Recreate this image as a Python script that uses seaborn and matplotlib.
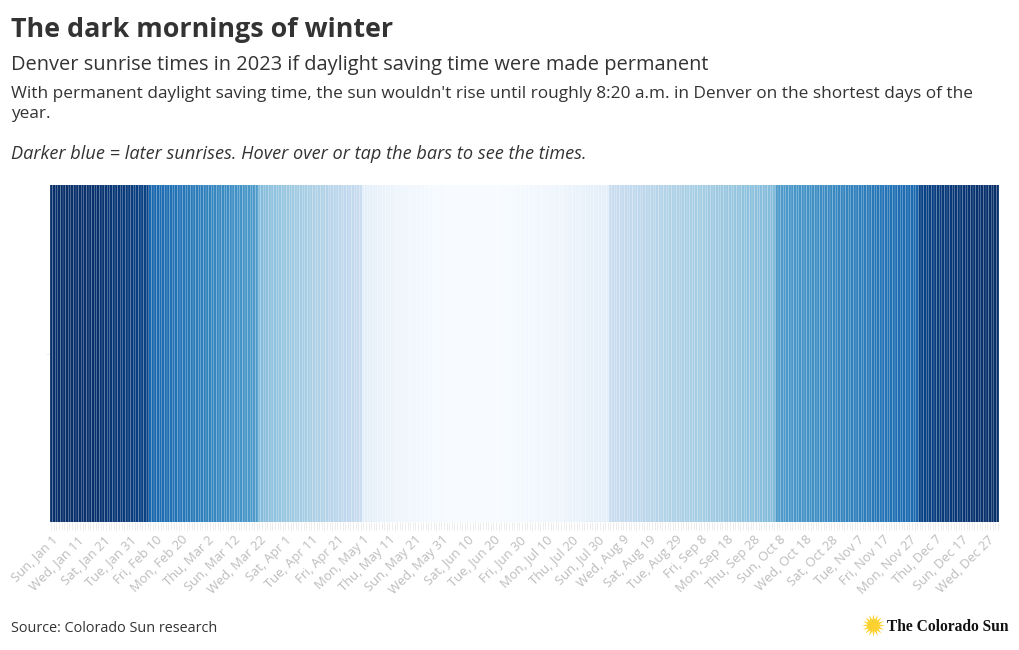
import pandas as pd
import seaborn as sns
import matplotlib.pyplot as plt

# sunrise as clock reading h.mm, one list per month
jan = [8.21, 8.21, 8.21, 8.21, 8.21, 8.21, 8.21, 8.21, 8.21, 8.20, 8.20, 8.20, 8.20, 8.19, 8.19, 8.19, 8.18, 8.18, 8.17, 8.17, 8.16, 8.15, 8.15, 8.14, 8.13, 8.13, 8.12, 8.11, 8.10, 8.09, 8.08]
feb = [8.07, 8.06, 8.05, 8.04, 8.03, 8.02, 8.01, 7.59, 7.58, 7.57, 7.55, 7.54, 7.53, 7.52, 7.51, 7.49, 7.48, 7.47, 7.45, 7.44, 7.43, 7.41, 7.40, 7.39, 7.37, 7.36, 7.34, 7.33]
mar = [7.31, 7.29, 7.28, 7.26, 7.25, 7.23, 7.22, 7.20, 7.19, 7.17, 7.16, 7.14, 7.13, 7.11, 7.10, 7.08, 7.07, 7.05, 7.04, 7.02, 7.00, 6.59, 6.57, 6.56, 6.54, 6.53, 6.51, 6.50, 6.48, 6.47, 6.45]
apr = [6.44, 6.42, 6.41, 6.39, 6.38, 6.36, 6.35, 6.33, 6.32, 6.30, 6.29, 6.27, 6.26, 6.24, 6.23, 6.21, 6.20, 6.18, 6.17, 6.16, 6.14, 6.13, 6.11, 6.10, 6.09, 6.07, 6.06, 6.04, 6.02, 6.00]
may = [5.59, 5.58, 5.57, 5.56, 5.54, 5.53, 5.52, 5.51, 5.50, 5.49, 5.48, 5.47, 5.46, 5.45, 5.44, 5.44, 5.43, 5.42, 5.41, 5.40, 5.39, 5.39, 5.38, 5.37, 5.37, 5.36, 5.36, 5.35, 5.34, 5.34, 5.33]
jun = [5.33, 5.33, 5.32, 5.32, 5.32, 5.31, 5.31, 5.31, 5.31, 5.31, 5.31, 5.31, 5.31, 5.31, 5.31, 5.31, 5.31, 5.31, 5.32, 5.32, 5.32, 5.32, 5.33, 5.33, 5.33, 5.34, 5.34, 5.34, 5.35, 5.35]
jul = [5.36, 5.36, 5.37, 5.37, 5.38, 5.38, 5.39, 5.40, 5.40, 5.41, 5.42, 5.42, 5.43, 5.44, 5.45, 5.45, 5.46, 5.47, 5.48, 5.49, 5.50, 5.51, 5.51, 5.52, 5.53, 5.54, 5.55, 5.56, 5.57, 5.57, 5.58]
aug = [5.58, 5.59, 5.59, 6.00, 6.01, 6.02, 6.03, 6.04, 6.05, 6.06, 6.07, 6.08, 6.09, 6.10, 6.11, 6.12, 6.13, 6.14, 6.15, 6.16, 6.17, 6.18, 6.19, 6.20, 6.21, 6.22, 6.23, 6.24, 6.25, 6.26, 6.27]
sep = [6.28, 6.29, 6.30, 6.30, 6.31, 6.32, 6.33, 6.34, 6.35, 6.36, 6.37, 6.38, 6.39, 6.40, 6.41, 6.42, 6.43, 6.44, 6.44, 6.45, 6.46, 6.47, 6.48, 6.49, 6.50, 6.51, 6.52, 6.52, 6.53, 6.54]
oct_ = [6.55, 6.56, 6.57, 6.58, 6.58, 6.59, 7.00, 7.01, 7.02, 7.03, 7.04, 7.05, 7.06, 7.07, 7.08, 7.09, 7.10, 7.11, 7.12, 7.13, 7.14, 7.15, 7.16, 7.17, 7.18, 7.19, 7.20, 7.22, 7.23, 7.24, 7.25]
nov = [7.26, 7.27, 7.28, 7.29, 7.31, 7.32, 7.33, 7.34, 7.35, 7.36, 7.37, 7.39, 7.40, 7.41, 7.42, 7.43, 7.44, 7.45, 7.47, 7.48, 7.49, 7.50, 7.51, 7.52, 7.53, 7.54, 7.55, 7.56, 7.58, 7.59]
dec = [8.00, 8.01, 8.02, 8.03, 8.04, 8.05, 8.06, 8.07, 8.08, 8.09, 8.10, 8.10, 8.11, 8.12, 8.13, 8.13, 8.14, 8.15, 8.15, 8.16, 8.16, 8.17, 8.18, 8.18, 8.19, 8.19, 8.19, 8.20, 8.20, 8.20, 8.21]

dates = pd.date_range("2023-01-01", "2023-12-31")
days = [f"{d:%a}, {d:%b} {d.day}" for d in dates]
sunrise = jan + feb + mar + apr + may + jun + jul + aug + sep + oct_ + nov + dec

sns.set_theme(style="white")
plt.rcParams["font.family"] = ["Open Sans", "DejaVu Sans"]

df = pd.DataFrame({"day": days, "sunrise": sunrise, "bar": 1})

fig = plt.figure(figsize=(10.2, 6.5), dpi=100)
ax = fig.add_axes([50 / 1020, 1 - 522 / 650, 949 / 1020, 337 / 650])
sns.barplot(data=df, x="day", y="bar", hue="sunrise", palette="Blues", hue_norm=(5.31, 8.21),
            order=days, dodge=False, legend=False, errorbar=None, width=0.92, linewidth=0,
            saturation=1, ax=ax)
# no pixel snapping, so the gaps between days come out as soft light seams
for bar in ax.patches:
    bar.set_snap(False)
ax.set_xlim(-0.5, 364.5)
ax.set_ylim(0, 1)
ax.set_xlabel("")
ax.set_ylabel("")
sns.despine(ax=ax, left=True, bottom=True)

# a faint tick for every day, a label for every tenth
ax.set_xticks(range(365))
ax.set_xticklabels([d if i % 10 == 0 else "" for i, d in enumerate(days)], rotation=45, ha="right",
                   rotation_mode="anchor", fontsize=9.4, color="#bdbdbd")
ax.tick_params(axis="x", length=6, width=0.5, color="#e6e6e6", pad=2, bottom=True)
ax.set_yticks([0.5])
ax.set_yticklabels([""])
ax.tick_params(axis="y", length=3, width=0.5, color="#e6e6e6", left=True)

fig.text(11 / 1020, 1 - 30 / 650, "The dark mornings of winter", fontsize=19.4, fontweight="bold",
         color="#333333", va="center")
fig.text(11 / 1020, 1 - 65 / 650, "Denver sunrise times in 2023 if daylight saving time were made permanent",
         fontsize=14.4, color="#333333", va="center")
fig.text(11 / 1020, 1 - 94 / 650, "With permanent daylight saving time, the sun wouldn't rise until roughly 8:20 a.m. in Denver on the shortest days of the",
         fontsize=12.45, color="#333333", va="center")
fig.text(11 / 1020, 1 - 114 / 650, "year.", fontsize=12.45, color="#333333", va="center")
fig.text(11 / 1020, 1 - 154 / 650, "Darker blue = later sunrises. Hover over or tap the bars to see the times.",
         fontsize=13.1, style="italic", color="#333333", va="center")
fig.text(11 / 1020, 1 - 629 / 650, "Source: Colorado Sun research", fontsize=10.4, color="#333333", va="center")

# logo
fig.text(887 / 1020, 1 - 627 / 650, "The Colorado Sun", fontsize=11.2, fontweight="bold",
         family="Liberation Serif", color="#111111", va="center")
logo = fig.add_axes([860 / 1020, 1 - 638 / 650, 26 / 1020, 26 / 650])
logo.axis("off")
logo.set_xlim(-1, 1)
logo.set_ylim(-1, 1)
logo.scatter([0], [0], s=270, marker=(16, 1, 0), color="#fdd12f", linewidths=0)

fig.savefig("out.png", dpi=100)
plt.close(fig)
